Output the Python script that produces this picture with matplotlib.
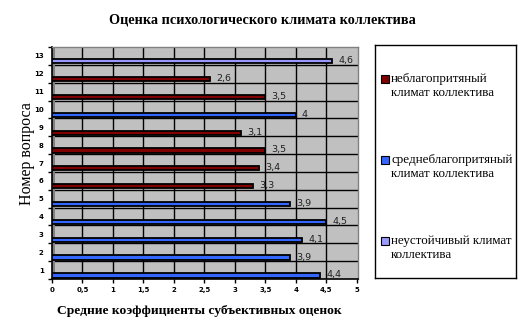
import matplotlib
matplotlib.use('Agg')
import matplotlib.pyplot as plt
from matplotlib.patches import Rectangle

questions = list(range(1, 14))
values = [4.4, 3.9, 4.1, 4.5, 3.9, 3.3, 3.4, 3.5, 3.1, 4.0, 3.5, 2.6, 4.6]
groups = [1, 1, 1, 1, 1, 0, 0, 0, 0, 1, 0, 0, 2]
series_names = ['неблагопритяный\nклимат коллектива',
                'среднеблагопритяный\nклимат коллектива',
                'неустойчивый климат\nколлектива']
series_colors = ['#800000', '#3366FF', '#9999FF']
xticks = [0, 0.5, 1, 1.5, 2, 2.5, 3, 3.5, 4, 4.5, 5]

serif = ['Liberation Serif', 'DejaVu Serif']

fig = plt.figure(figsize=(5.24, 3.26), dpi=100)
fig.patch.set_facecolor('white')

ax = fig.add_axes([52 / 524, 1 - 279 / 326, 306 / 524, 232 / 326])
ax.set_facecolor('#C0C0C0')
ax.set_xlim(0, 5.02)
ax.set_ylim(0.5, 13.5)

# grid
for x in xticks[1:-1]:
    ax.axvline(x, color='black', lw=1, zorder=1)
for y in range(1, 13):
    ax.axhline(y + 0.5, color='black', lw=1, zorder=1)
ax.add_patch(Rectangle((0, 0.5), 0.05, 13, color='#808080', zorder=2, lw=0))

colors = [series_colors[g] for g in groups]
ax.barh([q - 0.3 for q in questions], values, height=0.24, color=colors,
        edgecolor='black', linewidth=1.3, zorder=3)

for q, v in zip(questions, values):
    txt = ('%g' % v).replace('.', ',')
    ax.text(v + 0.1, q - 0.27, txt, fontsize=6.8, va='center', ha='left',
            color='#202020', zorder=4)

for s in ['top', 'right']:
    ax.spines[s].set_color('#808080')
    ax.spines[s].set_linewidth(1)
ax.spines['left'].set_linewidth(1.2)
ax.spines['bottom'].set_linewidth(1.2)

ax.set_xticks(xticks)
ax.set_xticklabels([('%g' % t).replace('.', ',') for t in xticks],
                   fontsize=5, fontweight='bold')
ax.set_yticks(questions)
ax.set_yticklabels([str(q) for q in questions], fontsize=5, fontweight='bold')
ax.set_yticks([q + 0.5 for q in range(0, 14)], minor=True)
ax.tick_params(axis='y', which='major', length=0, pad=6)
ax.tick_params(axis='y', which='minor', length=3, width=1)
ax.tick_params(axis='x', length=3, width=1, pad=3)

ax.set_xlabel('Средние коэффициенты субъективных оценок', family=serif,
              fontsize=9.7, fontweight='bold')
ax.xaxis.set_label_coords(0.48, -0.11)
ax.set_ylabel('Номер вопроса', family=serif, fontsize=11.5)
ax.yaxis.set_label_coords(-0.055, 0.54)

fig.text(0.5, 1 - 20 / 326, 'Оценка психологического климата коллектива',
         family=serif, fontsize=10.3, fontweight='bold', ha='center', va='center')

# legend box
lax = fig.add_axes([375 / 524, 1 - 278 / 326, 141 / 524, 233 / 326])
lax.set_xlim(0, 141)
lax.set_ylim(233, 0)
lax.set_xticks([])
lax.set_yticks([])
for s in lax.spines.values():
    s.set_linewidth(1)
for i, (name, col) in enumerate(zip(series_names, series_colors)):
    yc = 35 + i * 81
    lax.add_patch(Rectangle((6, yc - 5), 8, 8, facecolor=col, edgecolor='black', lw=0.8))
    lax.text(16, yc - 7, name, family=serif, fontsize=9.4, va='top', ha='left',
             linespacing=1.25)

plt.savefig('out.png', dpi=100)
plt.close()
